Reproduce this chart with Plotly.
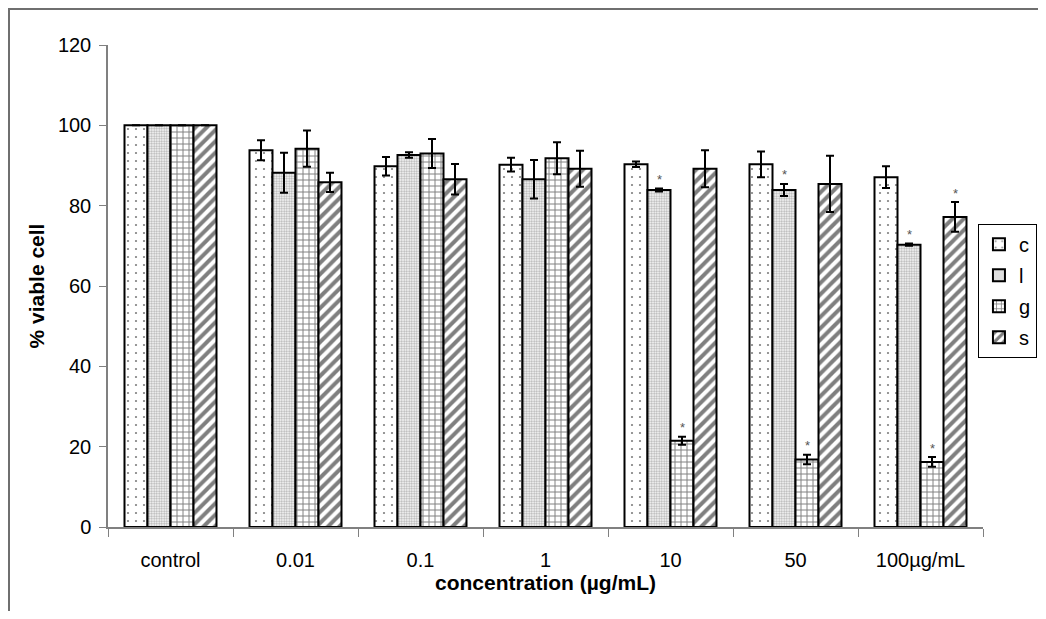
import plotly.graph_objects as go

categories = ["control", "0.01", "0.1", "1", "10", "50", "100µg/mL"]
series_names = ["c", "l", "g", "s"]

c_vals = [100, 93.8, 89.8, 90.2, 90.3, 90.3, 87.1]
c_err = [None, 2.5, 2.3, 1.7, 0.7, 3.2, 2.7]
l_vals = [100, 88.2, 92.6, 86.6, 83.9, 83.9, 70.3]
l_err = [None, 5.0, 0.7, 4.8, 0.4, 1.5, 0.3]
g_vals = [100, 94.2, 93.0, 91.8, 21.5, 16.8, 16.2]
g_err = [None, 4.5, 3.6, 4.0, 1.0, 1.2, 1.2]
s_vals = [100, 85.8, 86.6, 89.2, 89.2, 85.4, 77.2]
s_err = [None, 2.4, 3.8, 4.5, 4.6, 7.0, 3.7]

# significance markers: (series index, category)
sig_marks = [(1, "10"), (2, "10"), (1, "50"), (2, "50"), (1, "100µg/mL"), (2, "100µg/mL"), (3, "100µg/mL")]

all_vals = [c_vals, l_vals, g_vals, s_vals]
all_errs = [c_err, l_err, g_err, s_err]

patterns = [
    dict(shape=".", size=8, solidity=0.06, fgcolor="#000000", bgcolor="#ffffff"),
    dict(shape=".", size=2.5, solidity=0.5, fgcolor="#666666", bgcolor="#ffffff"),
    dict(shape="+", size=6, solidity=0.3, fgcolor="#000000", bgcolor="#ffffff"),
    dict(shape="/", size=8, solidity=0.5, fgcolor="#000000", bgcolor="#ffffff"),
]

FONT = "Liberation Sans, Arial, sans-serif"

W, H = 1030, 603
ML, MR, MT, MB = 100, 55, 37, 84

fig = go.Figure()
for name, vals, errs, pat in zip(series_names, all_vals, all_errs, patterns):
    fig.add_trace(go.Bar(
        name=name, x=categories, y=vals, legendgroup=name,
        marker=dict(color="#ffffff", line=dict(color="#000000", width=2), pattern=pat),
        error_y=dict(type="data", array=errs, visible=True, color="#000000", thickness=2, width=4),
    ))

# asterisks above significant bars
bar_px = 23
for si, cat in sig_marks:
    idx = categories.index(cat)
    top = all_vals[si][idx] + (all_errs[si][idx] or 0)
    fig.add_annotation(
        x=idx, y=top, xref="x", yref="y", text="*", showarrow=False,
        xshift=(si - 1.5) * bar_px, yshift=9,
        font=dict(size=13, color="#555555", family=FONT),
    )

# outer chart frame (top and left edges visible)
pw = W - ML - MR
ph = H - MT - MB
fig.add_shape(type="rect", xref="paper", yref="paper",
              x0=(1 - ML) / pw, x1=1.3, y0=-0.4, y1=(H - MB - 1) / ph,
              line=dict(color="#6f6f6f", width=2))

fig.update_layout(
    width=W, height=H,
    margin=dict(l=ML, r=MR, t=MT, b=MB, autoexpand=False),
    paper_bgcolor="#ffffff", plot_bgcolor="#ffffff",
    barmode="group", bargap=0.264, bargroupgap=0,
    font=dict(family=FONT, size=20, color="#000000"),
    showlegend=True,
    legend=dict(xref="container", yref="container", x=0.9417, y=0.642,
                xanchor="left", yanchor="top",
                bordercolor="#000000", borderwidth=1, bgcolor="#ffffff",
                font=dict(size=20, family=FONT), tracegroupgap=2,
                itemwidth=30),
    xaxis=dict(
        type="category", range=[-0.5, len(categories) - 0.5],
        title=dict(text="<b>concentration (µg/mL)</b>", font=dict(size=21, family=FONT), standoff=6),
        showline=True, linecolor="#808080", linewidth=1.5,
        ticks="outside", tickson="boundaries", ticklen=8, tickcolor="#808080",
        showgrid=False, tickfont=dict(size=20, family=FONT), tickangle=0,
        ticklabelstandoff=14,
    ),
    yaxis=dict(
        title=dict(text="<b>% viable cell</b>", font=dict(size=21, family=FONT), standoff=8),
        range=[0, 120], dtick=20, showline=True, linecolor="#808080", linewidth=1.5,
        ticks="outside", ticklen=7, tickcolor="#808080",
        showgrid=False, zeroline=False, tickfont=dict(size=20, family=FONT),
        ticklabelstandoff=4,
    ),
)

fig.write_html("out.html")
